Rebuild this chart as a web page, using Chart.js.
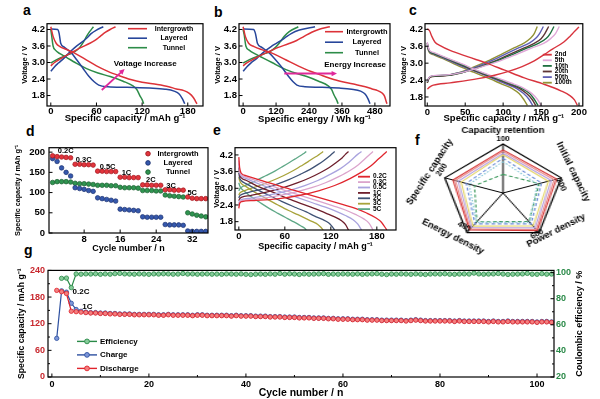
<!DOCTYPE html>
<html>
<head>
<meta charset="utf-8">
<script src="https://cdn.jsdelivr.net/npm/chart.js@4.4.1/dist/chart.umd.min.js"></script>
<style>
  body { margin: 0; background: #fff; }
  #fig { position: relative; width: 600px; height: 399px; overflow: hidden; background: #fff; }
  #fig canvas { position: absolute; }
  .tag { position: absolute; font: bold 14px 'Liberation Sans', Arial, sans-serif; line-height: 1; color: #000; }
</style>
</head>
<body>
<div id="fig">
  <div class="tag" style="left:23px;top:3px">a</div>
  <div class="tag" style="left:214px;top:5px">b</div>
  <div class="tag" style="left:409px;top:3px">c</div>
  <div class="tag" style="left:26px;top:124px">d</div>
  <div class="tag" style="left:213px;top:123px">e</div>
  <div class="tag" style="left:415px;top:133px">f</div>
  <div class="tag" style="left:24px;top:243px">g</div>
</div>
<script>
// ---------- data ----------
// shared voltage ticks
const voltTicks = [1.8, 2.4, 3.0, 3.6, 4.2];

// a: voltage vs specific capacity
const aCapTicks = [0, 60, 120, 180];
const aInterDis = [[0,4.3],[3,3.95],[7,3.7],[12,3.58],[20,3.48],[30,3.36],[45,3.12],[60,2.88],[75,2.68],[90,2.52],[105,2.38],[120,2.28],[140,2.2],[155,2.12],[165,2.04],[175,1.98],[182,1.88],[187,1.74],[190,1.6],[192,1.5]];
const aInterChg = [[0,2.88],[5,3.0],[12,3.12],[20,3.25],[30,3.4],[40,3.55],[50,3.68],[58,3.8],[65,3.95],[72,4.1],[78,4.2],[85,4.3]];
const aLayerDis = [[0,4.22],[9,4.2],[11,4.05],[13,3.7],[18,3.55],[27,3.35],[34,3.1],[42,2.8],[50,2.5],[57,2.3],[63,2.18],[75,2.12],[100,2.1],[130,2.07],[150,2.03],[162,1.96],[169,1.85],[173,1.68],[176,1.5]];
const aLayerChg = [[0,2.68],[5,2.85],[10,2.98],[17,3.15],[25,3.38],[33,3.58],[40,3.72],[47,3.88],[53,4.05],[60,4.18],[69,4.3]];
const aTunnelDis = [[0,4.2],[1,4.0],[3,3.6],[6,3.45],[12,3.32],[21,3.18],[32,3.0],[47,2.78],[62,2.62],[78,2.49],[95,2.32],[108,2.15],[113,2.02],[117,1.8],[120,1.65],[122,1.5]];
const aTunnelChg = [[0,2.98],[6,3.08],[14,3.18],[24,3.3],[32,3.4],[38,3.55],[43,3.75],[47,3.95],[51,4.12],[56,4.3]];
const aArrow = [[67, 2.0], [97, 2.76]];
const aNote = ['Voltage Increase', 124, 2.97];

// b: voltage vs specific energy
const bEnergyTicks = [0, 120, 240, 360, 480];
const bInterDis = [[0,4.3],[8,3.95],[20,3.7],[40,3.58],[70,3.46],[105,3.34],[155,3.1],[200,2.88],[245,2.68],[290,2.52],[330,2.38],[370,2.28],[410,2.2],[445,2.12],[470,2.04],[490,1.98],[505,1.9],[515,1.78],[520,1.62],[524,1.5]];
const bInterChg = [[0,2.88],[15,3.0],[38,3.12],[62,3.25],[95,3.4],[128,3.55],[165,3.68],[195,3.8],[222,3.95],[250,4.1],[275,4.2],[316,4.3]];
const bLayerDis = [[0,4.22],[38,4.2],[45,4.05],[52,3.7],[68,3.55],[95,3.35],[118,3.1],[143,2.8],[165,2.5],[182,2.3],[196,2.18],[225,2.12],[280,2.1],[350,2.07],[395,2.03],[428,1.96],[445,1.85],[455,1.68],[462,1.5]];
const bLayerChg = [[0,2.68],[14,2.85],[28,2.98],[50,3.15],[75,3.38],[102,3.58],[125,3.72],[150,3.88],[175,4.05],[205,4.18],[262,4.3]];
const bTunnelDis = [[0,4.2],[4,4.0],[10,3.6],[22,3.45],[42,3.32],[70,3.18],[105,3.0],[148,2.78],[190,2.62],[232,2.49],[275,2.32],[310,2.15],[322,2.02],[332,1.8],[340,1.65],[346,1.5]];
const bTunnelChg = [[0,2.98],[18,3.08],[42,3.18],[72,3.3],[98,3.4],[118,3.55],[135,3.75],[150,3.95],[168,4.12],[201,4.3]];
const bArrow = [[150, 2.6], [342, 2.6]];
const bNote = ['Energy Increase', 408, 2.9];

const abNames = ['Intergrowth', 'Layered', 'Tunnel'];

// c: cycling curves
const cCapTicks = [0, 50, 100, 150, 200];
const cNames = ['2nd', '5th', '10th', '20th', '50th', '100th'];
const c2Dis = [[0,4.22],[3,4.15],[6,3.95],[10,3.75],[17,3.62],[30,3.45],[54,3.22],[78,3.0],[102,2.75],[128,2.48],[154,2.25],[176,2.02],[188,1.85],[194,1.7],[198,1.5]];
const c2Chg = [[0,2.08],[3,2.15],[8,2.22],[30,2.3],[67,2.45],[90,2.58],[106,2.7],[125,2.88],[141,3.08],[155,3.32],[165,3.5],[180,3.75],[188,3.95],[194,4.12],[200,4.28]];
const c5Dis = [[0,3.75],[1,3.6],[3,3.45],[8,3.38],[20,3.25],[45,2.98],[70,2.7],[95,2.45],[115,2.25],[128,2.1],[138,1.92],[145,1.72],[150,1.5]];
const c5Chg = [[0,2.35],[2,2.48],[6,2.55],[24,2.58],[48,2.68],[72,2.87],[96,3.08],[120,3.34],[138,3.54],[154,3.71],[163,3.88],[169,4.05],[174,4.3]];
const c10Dis = [[0,3.72],[1,3.58],[3,3.43],[8,3.36],[20,3.23],[44,2.97],[68,2.7],[92,2.45],[112,2.25],[125,2.1],[135,1.92],[141,1.72],[146,1.5]];
const c10Chg = [[0,2.33],[2,2.47],[6,2.54],[23,2.57],[46,2.67],[69,2.86],[92,3.08],[115,3.34],[132,3.54],[147,3.71],[157,3.88],[162,4.05],[167,4.3]];
const c20Dis = [[0,3.7],[1,3.55],[3,3.42],[8,3.35],[20,3.22],[43,2.96],[66,2.7],[90,2.45],[109,2.25],[122,2.1],[131,1.92],[138,1.72],[143,1.5]];
const c20Chg = [[0,2.3],[2,2.45],[6,2.52],[22,2.55],[44,2.65],[66,2.84],[88,3.06],[110,3.33],[127,3.53],[141,3.7],[150,3.87],[155,4.05],[160,4.3]];
const c50Dis = [[0,3.65],[1,3.52],[3,3.4],[8,3.33],[20,3.2],[41,2.95],[64,2.7],[87,2.45],[105,2.25],[118,2.1],[127,1.92],[134,1.72],[139,1.5]];
const c50Chg = [[0,2.32],[2,2.46],[5,2.53],[21,2.56],[42,2.66],[63,2.85],[84,3.08],[105,3.35],[121,3.55],[135,3.72],[143,3.88],[148,4.05],[153,4.3]];
const c100Dis = [[0,3.6],[1,3.48],[3,3.37],[8,3.3],[20,3.17],[39,2.93],[61,2.68],[82,2.45],[99,2.25],[112,2.1],[121,1.92],[127,1.72],[132,1.5]];
const c100Chg = [[0,2.3],[2,2.45],[5,2.52],[20,2.55],[40,2.65],[60,2.85],[80,3.08],[100,3.35],[115,3.55],[128,3.72],[136,3.88],[141,4.05],[145,4.3]];

// d: rate capability
const dCycleTicks = [8, 16, 24, 32];
const dCapTicks = [0, 50, 100, 150, 200];
const dInter = [191,189,188,187,186, 170,170,169,169,168, 153,153,152,152,152, 138,138,137,137,137, 119,119,118,118,118, 107,107,106,106,106, 89,86,85,85,85];
const dLayer = [184,177,161,150,141, 112,110,108,105,103, 87,85,83,81,79, 59,58,57,56,55, 40,39,39,39,39, 21,20,20,20,19, 5,4,4,4,4];
const dTunnel = [125,127,127,127,126, 123,122,122,121,120, 118,118,118,117,117, 113,112,112,112,111, 105,105,105,104,104, 94,92,91,90,89, 50,47,44,42,40];
const dRateNotes = [['0.2C',3.9,202],['0.3C',7.9,181],['0.5C',13.2,163],['1C',17.4,149],['2C',22.8,131],['3C',27.3,117],['5C',32,99]];

// e: rate curves
const eCapTicks = [0, 60, 120, 180];
const eNames = ['0.2C', '0.3C', '0.5C', '1C', '2C', '3C', '5C'];
const eDis02 = [[0,4.12],[1,3.75],[3,3.55],[10,3.45],[30,3.28],[60,3.02],[90,2.78],[115,2.58],[135,2.42],[152,2.28],[166,2.12],[178,1.95],[186,1.78],[193,1.5]];
const eChg02 = [[0,2.28],[1,2.45],[4,2.52],[20,2.56],[50,2.62],[80,2.75],[105,2.92],[125,3.1],[145,3.35],[160,3.58],[172,3.8],[182,4.05],[188,4.2],[193,4.32]];
const eDis03 = [[0,4.0],[1,3.65],[3,3.5],[10,3.4],[28,3.22],[55,2.97],[82,2.73],[105,2.53],[123,2.37],[139,2.22],[152,2.06],[163,1.9],[170,1.74],[175,1.5]];
const eChg03 = [[0,2.4],[1,2.5],[4,2.56],[18,2.6],[45,2.7],[72,2.85],[95,3.02],[113,3.2],[131,3.43],[145,3.64],[156,3.85],[165,4.07],[170,4.2],[175,4.32]];
const eDis05 = [[0,3.9],[1,3.58],[3,3.45],[10,3.35],[26,3.16],[50,2.92],[75,2.68],[96,2.48],[113,2.32],[127,2.17],[139,2.02],[149,1.87],[155,1.72],[160,1.5]];
const eChg05 = [[0,2.45],[1,2.55],[4,2.6],[16,2.65],[40,2.76],[65,2.92],[86,3.1],[103,3.28],[119,3.5],[132,3.7],[142,3.9],[150,4.1],[155,4.22],[160,4.32]];
const eDis1 = [[0,3.75],[1,3.5],[3,3.38],[10,3.28],[24,3.08],[45,2.85],[67,2.6],[86,2.4],[101,2.25],[114,2.1],[125,1.97],[134,1.83],[139,1.7],[143,1.5]];
const eChg1 = [[0,2.55],[1,2.62],[4,2.68],[15,2.74],[36,2.86],[58,3.02],[77,3.2],[92,3.37],[106,3.56],[118,3.75],[127,3.93],[135,4.1],[139,4.22],[143,4.32]];
const eDis2 = [[0,3.55],[1,3.38],[3,3.28],[10,3.16],[22,2.98],[40,2.74],[58,2.5],[75,2.3],[88,2.15],[99,2.0],[109,1.88],[117,1.76],[121,1.65],[125,1.5]];
const eChg2 = [[0,2.65],[1,2.72],[4,2.78],[13,2.85],[31,2.98],[50,3.15],[66,3.32],[80,3.5],[93,3.68],[103,3.85],[111,4.0],[118,4.15],[122,4.25],[125,4.32]];
const eDis3 = [[0,3.4],[1,3.28],[3,3.18],[10,3.05],[20,2.87],[35,2.64],[51,2.4],[65,2.2],[77,2.05],[87,1.92],[96,1.8],[103,1.7],[107,1.6],[110,1.5]];
const eChg3 = [[0,2.75],[1,2.82],[4,2.88],[12,2.96],[27,3.1],[44,3.28],[58,3.45],[70,3.62],[81,3.8],[90,3.95],[97,4.08],[103,4.18],[107,4.26],[110,4.32]];
const eDis5 = [[0,3.2],[1,3.1],[3,3.0],[8,2.88],[16,2.7],[28,2.48],[40,2.27],[51,2.1],[61,1.95],[69,1.83],[76,1.73],[82,1.63],[86,1.56],[88,1.5]];
const eChg5 = [[0,2.9],[1,2.97],[3,3.03],[10,3.12],[22,3.27],[35,3.45],[47,3.62],[57,3.78],[66,3.93],[73,4.05],[79,4.15],[84,4.24],[87,4.3],[88,4.32]];

// f: radar
const fAxes = ['Capacity retention', 'Initial capacity', 'Power density', 'Energy density', 'Specific capacity'];
const fAxisMax = [100, 200, 600, 400, 200];
const fS1 = [88, 184, 570, 372, 172];
const fS2 = [85, 176, 552, 362, 164];
const fS3 = [81, 166, 528, 348, 154];
const fS4 = [78, 156, 500, 334, 144];
const fS5 = [71, 132, 468, 312, 126];
const fS6 = [64, 118, 444, 296, 116];
const fS7 = [38, 124, 432, 290, 98];

// g: long cycling at 1C
const gCycleTicks = [0, 10, 20, 30, 40, 50, 60, 70, 80, 90, 100];
const gCapTicks = [0, 30, 60, 90, 120, 150, 180, 210, 240];
const gEffTicks = [20, 30, 40, 50, 60, 70, 80, 90, 100];
const gDischarge = [195,192,188,148,147,146,145,144,144,143,
  143,142,142,141,141,141,140,140,140,140,
  140,139,139,140,139,139,139,139,138,139,
  139,138,138,138,138,138,137,138,137,137,
  137,136,136,136,135,135,135,134,134,134,
  133,133,133,132,132,132,131,131,130,130,
  130,129,129,129,128,128,128,127,127,127,
  127,127,126,127,128,127,126,126,126,126,
  126,126,125,126,125,125,125,125,125,124,
  125,124,124,125,124,124,124,124,124,123,
  124,124,123];
const gCharge = [87,194,191,166,152,148,146,145,145,144,
  144,143,143,142,142,142,141,141,141,141,
  141,140,140,141,140,140,140,140,139,140,
  140,139,139,139,139,139,138,139,138,138,
  138,137,137,137,136,136,136,135,135,135,
  134,134,134,133,133,133,132,132,131,131,
  131,130,130,130,129,129,129,128,128,128,
  128,128,127,128,129,128,127,127,127,127,
  127,127,126,127,126,126,126,126,126,125,
  126,125,125,126,125,125,125,125,125,124,
  125,125,124];
const gEff = [null,95.6,95.8,88.5,99.0,98.8,99.0,98.9,99.1,98.7,
  99.0,98.8,99.2,99.4,99.0,98.9,98.8,99.0,98.9,98.7,
  99.0,98.9,99.1,99.0,98.8,98.9,99.3,98.9,99.0,98.8,
  98.9,99.0,98.8,98.9,98.7,99.0,98.9,98.8,99.0,98.7,
  98.5,98.8,98.9,98.7,99.0,98.8,99.3,98.8,99.1,98.9,
  98.6,99.0,98.8,98.9,99.0,99.2,98.7,98.9,98.8,99.0,
  98.9,98.8,99.0,98.7,98.9,99.0,99.2,98.8,98.5,98.9,
  98.8,99.0,98.9,98.7,99.0,98.8,98.6,98.9,99.0,98.9,
  99.1,98.8,98.7,98.9,99.0,98.9,99.6,99.0,98.8,98.9,
  99.0,99.3,98.9,98.6,98.8,98.9,99.0,99.4,98.8,98.7,
  99.2,98.8,98.9];
const gNames = ['Efficiency', 'Charge', 'Discharge'];
const gNotes = [['0.2C', 6.0, 191], ['1C', 7.3, 159]];

// ---------- styles ----------
const FONT = "'Liberation Sans', Arial, Helvetica, sans-serif";
const bold = (size) => ({ family: FONT, size: size, weight: 'bold' });
const fontStr = (size) => 'bold ' + size + 'px ' + FONT;
const RED = '#dc3238', BLUE = '#27469a', GREEN = '#2d8c48', MAGENTA = '#e0299a';
const abColors = [RED, BLUE, GREEN];
const cColors = ['#d8343e', '#e0a8d8', '#1f7040', '#5e3535', '#5f5fb5', '#939335'];
const eColors = ['#e0262e', '#dba4cc', '#a9a3de', '#6e1f2c', '#3f5275', '#a8a33a', '#5fa887'];
const gColors = ['#2a8a48', '#2d50a0', '#e0242c'];
const gFills = ['#86cc9a', '#7d96d8', '#f28080'];

const fig = document.getElementById('fig');
const xy = (pts) => pts.map(p => ({ x: p[0], y: p[1] }));
const byCycle = (vals) => vals.map((v, i) => ({ x: i + 1, y: v }));

function curve(pts, color, w) {
  return { data: xy(pts), borderColor: color, backgroundColor: color, borderWidth: w || 1.5,
    pointRadius: 0, fill: false, cubicInterpolationMode: 'monotone' };
}

function makeCanvas(box, yw, xh, pt, pr, yw2) {
  const w = box.r - box.l + yw + pr + (yw2 || 0);
  const h = box.b - box.t + pt + xh;
  const c = document.createElement('canvas');
  c.width = w; c.height = h;
  c.style.left = (box.l - yw) + 'px';
  c.style.top = (box.t - pt) + 'px';
  c.style.width = w + 'px';
  c.style.height = h + 'px';
  fig.appendChild(c);
  return c;
}

function axis(o) {
  return {
    type: 'linear', position: o.pos, min: o.min, max: o.max,
    afterBuildTicks: s => { s.ticks = o.ticks.map(v => ({ value: v })); },
    afterFit: s => { if (o.pos === 'bottom') s.height = o.size; else s.width = o.size; },
    grid: { display: false, drawTicks: false },
    border: { display: false },
    ticks: { color: o.color || '#000', font: bold(o.fs || 9.5), padding: o.pad == null ? 2 : o.pad,
      maxRotation: 0, autoSkip: false, callback: o.fmt || (v => v) },
    title: { display: !!o.title, text: o.title || '', color: '#000', font: bold(o.ts || 9), padding: 0 }
  };
}

// box frame with inward tick marks
const framePlugin = {
  id: 'frame',
  afterDatasetsDraw(chart) {
    const ctx = chart.ctx, A = chart.chartArea;
    ctx.save();
    ctx.strokeStyle = '#000';
    ctx.lineWidth = 1.2;
    ctx.strokeRect(A.left, A.top, A.right - A.left, A.bottom - A.top);
    ctx.lineWidth = 1;
    Object.values(chart.scales).forEach(s => {
      s.ticks.forEach(t => {
        const p = s.getPixelForValue(t.value);
        const len = t.label === '' ? 2 : 3.5;
        ctx.beginPath();
        if (s.position === 'bottom') { ctx.moveTo(p, A.bottom); ctx.lineTo(p, A.bottom - len); }
        else if (s.position === 'left') { ctx.moveTo(A.left, p); ctx.lineTo(A.left + len, p); }
        else { ctx.moveTo(A.right, p); ctx.lineTo(A.right - len, p); }
        ctx.stroke();
      });
    });
    ctx.restore();
  }
};

function legend(ctx, names, colors, o) {
  ctx.font = fontStr(o.fs);
  ctx.textBaseline = 'middle';
  ctx.textAlign = o.align || 'left';
  names.forEach((name, i) => {
    const y = o.y + i * o.dy;
    ctx.strokeStyle = colors[i];
    ctx.lineWidth = o.lw || 1.6;
    if (o.x2 > o.x1) {
      ctx.beginPath(); ctx.moveTo(o.x1, y); ctx.lineTo(o.x2, y); ctx.stroke();
    }
    if (o.dot) {
      ctx.beginPath();
      ctx.arc((o.x1 + o.x2) / 2, y, o.dot, 0, Math.PI * 2);
      ctx.fillStyle = o.fills ? o.fills[i] : colors[i];
      ctx.fill();
      ctx.lineWidth = 0.9;
      ctx.stroke();
    }
    ctx.fillStyle = '#000';
    ctx.fillText(name, o.tx, y);
  });
}

function textAt(chart, txt, x, y, fs, color, yId) {
  const ctx = chart.ctx;
  ctx.font = fontStr(fs);
  ctx.fillStyle = color || '#000';
  ctx.textAlign = 'center';
  ctx.textBaseline = 'middle';
  ctx.fillText(txt, chart.scales.x.getPixelForValue(x), chart.scales[yId || 'y'].getPixelForValue(y));
}

function arrow(chart, pts, color) {
  const ctx = chart.ctx, sx = chart.scales.x, sy = chart.scales.y;
  const x1 = sx.getPixelForValue(pts[0][0]), y1 = sy.getPixelForValue(pts[0][1]);
  const x2 = sx.getPixelForValue(pts[1][0]), y2 = sy.getPixelForValue(pts[1][1]);
  const ang = Math.atan2(y2 - y1, x2 - x1), h = 6;
  ctx.strokeStyle = color; ctx.fillStyle = color; ctx.lineWidth = 1.8;
  ctx.beginPath(); ctx.moveTo(x1, y1);
  ctx.lineTo(x2 - h * 0.7 * Math.cos(ang), y2 - h * 0.7 * Math.sin(ang)); ctx.stroke();
  ctx.beginPath(); ctx.moveTo(x2, y2);
  ctx.lineTo(x2 - h * Math.cos(ang - 0.45), y2 - h * Math.sin(ang - 0.45));
  ctx.lineTo(x2 - h * Math.cos(ang + 0.45), y2 - h * Math.sin(ang + 0.45));
  ctx.closePath(); ctx.fill();
}

function xyPanel(p) {
  const pt = 3, pr = 3;
  const cv = makeCanvas(p.box, p.yw, p.xh, pt, pr, p.yw2);
  p.x.pos = 'bottom'; p.x.size = p.xh;
  p.y.pos = 'left'; p.y.size = p.yw;
  const scales = { x: axis(p.x), y: axis(p.y) };
  if (p.y2) { p.y2.pos = 'right'; p.y2.size = p.yw2; scales.y2 = axis(p.y2); }
  return new Chart(cv, {
    type: 'line',
    data: { datasets: p.datasets },
    options: {
      responsive: false, animation: false, events: [],
      layout: { autoPadding: false, padding: { left: 0, top: pt, right: pr, bottom: 0 } },
      plugins: { legend: { display: false }, tooltip: { enabled: false } },
      scales: scales
    },
    plugins: [framePlugin, {
      id: 'notes',
      afterDatasetsDraw(chart) { chart.ctx.save(); p.notes(chart, chart.ctx); chart.ctx.restore(); }
    }]
  });
}

const fmtV = v => v.toFixed(1);
const capTitle = 'Specific capacity / mAh g\u207B\u00B9';

// ---------- a ----------
xyPanel({
  box: { l: 47, t: 19, r: 203, b: 106 }, yw: 27, xh: 18,
  x: { min: -5, max: 200, ticks: aCapTicks, pad: 0, title: capTitle, ts: 9.5 },
  y: { min: 1.42, max: 4.41, ticks: voltTicks, fmt: fmtV, title: 'Voltage / V', ts: 7.5 },
  datasets: [curve(aInterDis, RED), curve(aInterChg, RED), curve(aLayerDis, BLUE),
    curve(aLayerChg, BLUE), curve(aTunnelDis, GREEN), curve(aTunnelChg, GREEN)],
  notes: (chart, ctx) => {
    const A = chart.chartArea;
    legend(ctx, abNames, abColors, { x1: A.left + 81, x2: A.left + 100, tx: A.left + 127, align: 'center', y: A.top + 5, dy: 9.5, fs: 7 });
    arrow(chart, aArrow, MAGENTA);
    textAt(chart, aNote[0], aNote[1], aNote[2], 8);
  }
});

// ---------- b ----------
xyPanel({
  box: { l: 239, t: 19, r: 390, b: 106 }, yw: 26, xh: 19,
  x: { min: -15, max: 535, ticks: bEnergyTicks, pad: 0, title: 'Specific energy / Wh kg\u207B\u00B9', ts: 9.5 },
  y: { min: 1.42, max: 4.41, ticks: voltTicks, fmt: fmtV, title: 'Voltage / V', ts: 7.5 },
  datasets: [curve(bInterDis, RED), curve(bInterChg, RED), curve(bLayerDis, BLUE),
    curve(bLayerChg, BLUE), curve(bTunnelDis, GREEN), curve(bTunnelChg, GREEN)],
  notes: (chart, ctx) => {
    const A = chart.chartArea;
    legend(ctx, abNames, abColors, { x1: A.right - 65, x2: A.right - 47, tx: A.right - 23, align: 'center', y: A.top + 8, dy: 10.5, fs: 7.5 });
    arrow(chart, bArrow, MAGENTA);
    textAt(chart, bNote[0], bNote[1], bNote[2], 8);
  }
});

// ---------- c ----------
const cPairs = [[c2Dis, c2Chg], [c5Dis, c5Chg], [c10Dis, c10Chg], [c20Dis, c20Chg], [c50Dis, c50Chg], [c100Dis, c100Chg]];
const cSets = [];
cPairs.forEach((pair, i) => { cSets.push(curve(pair[0], cColors[i], 1.4), curve(pair[1], cColors[i], 1.4)); });
xyPanel({
  box: { l: 425, t: 19, r: 585, b: 106 }, yw: 26, xh: 18,
  x: { min: -3, max: 205, ticks: cCapTicks, pad: 1, title: capTitle, ts: 9.5 },
  y: { min: 1.48, max: 4.4, ticks: voltTicks, fmt: fmtV, title: 'Voltage / V', ts: 7.5 },
  datasets: cSets,
  notes: (chart, ctx) => {
    const A = chart.chartArea;
    legend(ctx, cNames, cColors, { x1: A.right - 40, x2: A.right - 31, tx: A.right - 28, y: A.top + 31, dy: 5.6, fs: 6.5, lw: 1.8 });
  }
});

// ---------- d ----------
function dotSet(vals, color, edge) {
  return { data: byCycle(vals), showLine: false, pointRadius: 2.3, pointBackgroundColor: color,
    pointBorderColor: edge, pointBorderWidth: 0.7, borderColor: color };
}
xyPanel({
  box: { l: 49, t: 141, r: 208, b: 233 }, yw: 35, xh: 21,
  x: { min: 0.2, max: 35.5, ticks: dCycleTicks, pad: 1, title: 'Cycle number / n', ts: 9 },
  y: { min: 0, max: 211, ticks: dCapTicks, pad: 4, title: capTitle, ts: 7.2 },
  datasets: [dotSet(dInter, '#e2343c', '#a01820'), dotSet(dLayer, '#3558ad', '#1c3270'), dotSet(dTunnel, '#2f9450', '#1b5e30')],
  notes: (chart, ctx) => {
    const A = chart.chartArea;
    legend(ctx, abNames, ['#a01820', '#1c3270', '#1b5e30'], { x1: A.right - 60, x2: A.right - 60, dot: 2.3,
      fills: ['#e2343c', '#3558ad', '#2f9450'], tx: A.right - 30, align: 'center', y: A.top + 6, dy: 9.2, fs: 7.5 });
    dRateNotes.forEach(n => textAt(chart, n[0], n[1], n[2], 7.5));
  }
});

// ---------- e ----------
const ePairs = [[eDis02, eChg02], [eDis03, eChg03], [eDis05, eChg05], [eDis1, eChg1], [eDis2, eChg2], [eDis3, eChg3], [eDis5, eChg5]];
const eSets = [];
ePairs.forEach((pair, i) => { eSets.push(curve(pair[0], eColors[i], 1.3), curve(pair[1], eColors[i], 1.3)); });
xyPanel({
  box: { l: 235, t: 143, r: 396, b: 230 }, yw: 23, xh: 22,
  x: { min: -5, max: 205, ticks: eCapTicks, pad: 1, title: capTitle, ts: 9 },
  y: { min: 1.5, max: 4.46, ticks: voltTicks, fmt: fmtV, title: 'Voltage / V', ts: 7.5 },
  datasets: eSets,
  notes: (chart, ctx) => {
    const A = chart.chartArea;
    legend(ctx, eNames, eColors, { x1: A.right - 38, x2: A.right - 26, tx: A.right - 23, y: A.top + 29, dy: 5.4, fs: 6.5, lw: 1.8 });
  }
});

// ---------- f (radar) ----------
const SX = 220 / 176;
const fSeries = [
  { vals: fS1, color: '#d63a3a', dash: [] },
  { vals: fS2, color: '#e98a8a', dash: [] },
  { vals: fS3, color: '#b7a2e0', dash: [] },
  { vals: fS4, color: '#e6d66a', dash: [] },
  { vals: fS5, color: '#6b8cd6', dash: [3, 2] },
  { vals: fS6, color: '#86c6d6', dash: [1.5, 1.5] },
  { vals: fS7, color: '#3f9a5e', dash: [3, 2] }
];
const fLabelStyle = [
  { rot: 0, lab: [0, -14], num: [0, -5] },
  { rot: 64, lab: [12, -6], num: [0, 7] },
  { rot: -27, lab: [17, -2], num: [-2, 1.5] },
  { rot: 27, lab: [-14, 4], num: [-3, -6] },
  { rot: -57, lab: [-15, -6], num: [-3, -8] }
];
const radarLabels = {
  id: 'radarLabels',
  afterDraw(chart) {
    const ctx = chart.ctx, r = chart.scales.r;
    fAxes.forEach((name, i) => {
      const v = r.getPointPosition(i, r.drawingArea);
      const st = fLabelStyle[i];
      [[name, st.lab, 9.5], [String(fAxisMax[i]), st.num, 8]].forEach(item => {
        ctx.save();
        ctx.translate(v.x + item[1][0] / SX, v.y + item[1][1]);
        ctx.scale(1 / SX, 1);
        ctx.rotate(st.rot * Math.PI / 180);
        ctx.font = fontStr(item[2]);
        ctx.fillStyle = '#000';
        ctx.textAlign = 'center';
        ctx.textBaseline = 'middle';
        ctx.fillText(item[0], 0, 0);
        ctx.restore();
      });
    });
  }
};
const rc = document.createElement('canvas');
rc.width = 176; rc.height = 160;
rc.style.left = '393px'; rc.style.top = '113px';
rc.style.width = '220px'; rc.style.height = '160px';
fig.appendChild(rc);
new Chart(rc, {
  type: 'radar',
  data: {
    labels: fAxes,
    datasets: fSeries.map(s => ({
      data: s.vals.map((v, i) => v / fAxisMax[i]),
      borderColor: s.color, borderWidth: 1.1, borderDash: s.dash,
      pointRadius: 0, fill: false, backgroundColor: 'transparent'
    }))
  },
  options: {
    responsive: false, animation: false, events: [],
    layout: { padding: { left: 39, right: 39, top: 31, bottom: 31 } },
    plugins: { legend: { display: false }, tooltip: { enabled: false } },
    scales: {
      r: {
        min: 0, max: 1,
        ticks: { display: false, stepSize: 1 },
        grid: { color: '#000', lineWidth: 1.2 },
        angleLines: { color: '#000', lineWidth: 1 },
        pointLabels: { display: false }
      }
    }
  },
  plugins: [radarLabels]
});

// ---------- g ----------
const gData = [gEff, gCharge, gDischarge];
const gAxisIds = ['y2', 'y', 'y'];
const gOrder = [0, 2, 1];
xyPanel({
  box: { l: 48, t: 265, r: 554, b: 377 }, yw: 32, yw2: 32, xh: 22,
  x: { min: -0.8, max: 103.5, ticks: gCycleTicks, fs: 9, pad: 2, fmt: v => (v % 20 === 0 ? v : ''), title: 'Cycle number / n', ts: 10.5 },
  y: { min: 0, max: 240, ticks: gCapTicks, fs: 9, pad: 3, color: '#c8282e', fmt: v => (v % 60 === 0 ? v : ''), title: capTitle, ts: 8.7 },
  y2: { min: 20, max: 101.7, ticks: gEffTicks, fs: 9, pad: 2, color: '#2a8a48', fmt: v => (v % 20 === 0 ? v : '') },
  datasets: gData.map((vals, i) => ({
    data: byCycle(vals), yAxisID: gAxisIds[i], order: gOrder[i],
    borderColor: gColors[i], borderWidth: 1.2, pointRadius: 2.2,
    pointBackgroundColor: gFills[i], pointBorderColor: gColors[i], pointBorderWidth: 0.8, clip: 4
  })),
  notes: (chart, ctx) => {
    const A = chart.chartArea;
    legend(ctx, gNames, gColors, { x1: A.left + 29, x2: A.left + 49, dot: 2.4, fills: gFills, tx: A.left + 52,
      y: A.top + 71, dy: 13.5, fs: 8, lw: 1.4 });
    gNotes.forEach(n => textAt(chart, n[0], n[1], n[2], 8));
    ctx.save();
    ctx.translate(A.right + 26, (A.top + A.bottom) / 2);
    ctx.rotate(-Math.PI / 2);
    ctx.font = fontStr(9);
    ctx.fillStyle = '#000';
    ctx.textAlign = 'center';
    ctx.textBaseline = 'middle';
    ctx.fillText('Coulombic efficiency / %', 0, 0);
    ctx.restore();
  }
});
</script>
</body>
</html>
